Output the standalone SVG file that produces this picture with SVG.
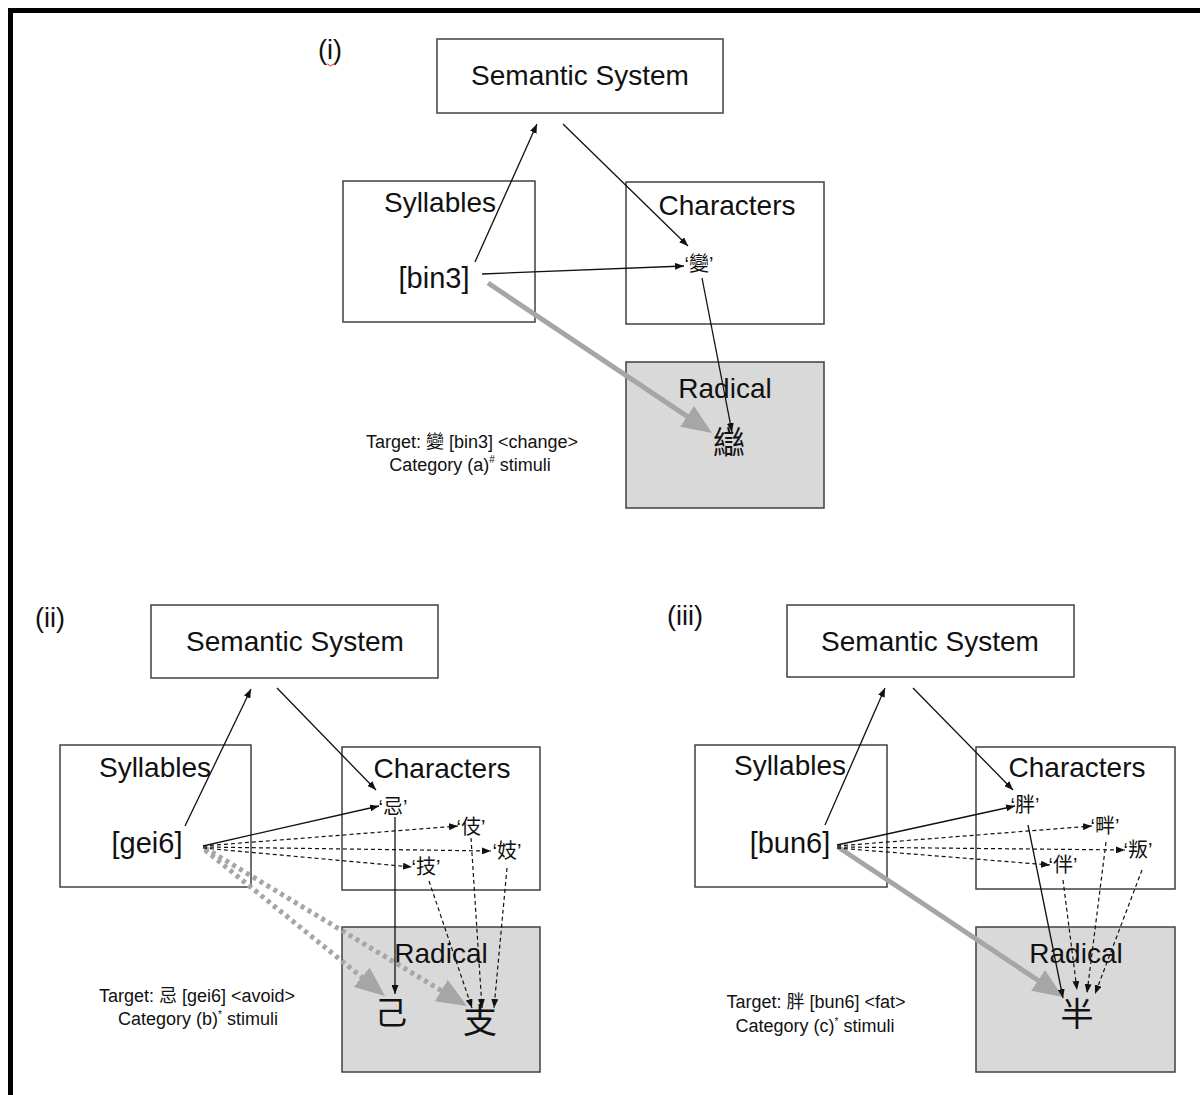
<svg xmlns="http://www.w3.org/2000/svg" width="1200" height="1095" viewBox="0 0 1200 1095">
<style>
text{font-family:"Liberation Sans","Noto Sans CJK TC",sans-serif;fill:#111;text-anchor:middle}
.box{fill:#fff;stroke:#404040;stroke-width:1.5}
.rad{fill:#d9d9d9;stroke:#404040;stroke-width:1.5}
.lbl{font-size:28px}
.br{font-size:29px}
.ch{font-size:20px}
.tg{font-size:18px}
.sup{font-size:10px}
.num{font-size:27px}
.a{stroke:#111;stroke-width:1.3;fill:none;marker-end:url(#ab)}
.d{stroke:#111;stroke-width:1.2;fill:none;stroke-dasharray:4 3;marker-end:url(#ab)}
.g{stroke:#a6a6a6;stroke-width:5;fill:none;marker-end:url(#ag)}
.gd{stroke:#a6a6a6;stroke-width:5;fill:none;stroke-dasharray:4 4;marker-end:url(#ag)}
</style>
<defs>
<marker id="ab" markerUnits="userSpaceOnUse" markerWidth="9" markerHeight="7" refX="9" refY="3.5" orient="auto"><path d="M0,0 L9,3.5 L0,7 z" fill="#111"/></marker>
<marker id="ag" markerUnits="userSpaceOnUse" markerWidth="31" markerHeight="25" refX="2" refY="12.5" orient="auto"><path d="M0,0 L30,12.5 L0,25 z" fill="#a6a6a6"/></marker>
</defs>
<rect width="1200" height="1095" fill="#fff"/>
<path d="M10.5,1095 V10.5 H1200" fill="none" stroke="#000" stroke-width="5"/>

<!-- Panel (i) -->
<g id="label-i"><text class="num" x="330" y="59">(i)</text><path d="M326,65 q1.5,-2 3,0 t3,0 t3,0" fill="none" stroke="#d33" stroke-width="1"/></g>
<g id="sem-i"><rect class="box" x="437" y="39" width="286" height="74"/><text class="lbl" x="580" y="85">Semantic System</text></g>
<g id="syl-i"><rect class="box" x="343" y="181" width="192" height="141"/><text class="lbl" x="440" y="212">Syllables</text><text class="br" x="434" y="288">[bin3]</text></g>
<g id="chr-i"><rect class="box" x="626" y="182" width="198" height="142"/><text class="lbl" x="727" y="215">Characters</text><text class="ch" x="699" y="271">‘變’</text></g>
<g id="rad-i"><rect class="rad" x="626" y="362" width="198" height="146"/><text class="lbl" x="725" y="398">Radical</text><text x="729" y="454" style="font-size:32px">䜌</text></g>
<g id="tgt-i"><text class="tg" x="472" y="448">Target: 變 [bin3] &lt;change&gt;</text><text class="tg" x="470" y="471">Category (a)<tspan class="sup" dy="-8">#</tspan><tspan dy="8"> stimuli</tspan></text></g>

<!-- Panel (ii) -->
<g id="label-ii"><text class="num" x="50" y="627">(ii)</text></g>
<g id="sem-ii"><rect class="box" x="151" y="605" width="287" height="73"/><text class="lbl" x="295" y="651">Semantic System</text></g>
<g id="syl-ii"><rect class="box" x="60" y="745" width="191" height="142"/><text class="lbl" x="155" y="777">Syllables</text><text class="br" x="147" y="853">[gei6]</text></g>
<g id="chr-ii"><rect class="box" x="342" y="747" width="198" height="143"/><text class="lbl" x="442" y="778">Characters</text>
<text class="ch" x="393" y="814">‘忌’</text><text class="ch" x="471" y="834">‘伎’</text><text class="ch" x="507" y="858">‘妓’</text><text class="ch" x="426" y="874">‘技’</text></g>
<g id="rad-ii"><rect class="rad" x="342" y="927" width="198" height="145"/><text class="lbl" x="441" y="963">Radical</text><text x="391" y="1024" style="font-size:32px">己</text><text x="480" y="1033" style="font-size:34px">支</text></g>
<g id="tgt-ii"><text class="tg" x="197" y="1002">Target: 忌 [gei6] &lt;avoid&gt;</text><text class="tg" x="198" y="1025">Category (b)<tspan class="sup" dy="-7">*</tspan><tspan dy="7"> stimuli</tspan></text></g>

<!-- Panel (iii) -->
<g id="label-iii"><text class="num" x="685" y="625">(iii)</text></g>
<g id="sem-iii"><rect class="box" x="787" y="605" width="287" height="72"/><text class="lbl" x="930" y="651">Semantic System</text></g>
<g id="syl-iii"><rect class="box" x="695" y="745" width="192" height="142"/><text class="lbl" x="790" y="775">Syllables</text><text class="br" x="790" y="853">[bun6]</text></g>
<g id="chr-iii"><rect class="box" x="976" y="747" width="199" height="142"/><text class="lbl" x="1077" y="777">Characters</text>
<text class="ch" x="1025" y="812">‘胖’</text><text class="ch" x="1105" y="833">‘畔’</text><text class="ch" x="1138" y="857">‘叛’</text><text class="ch" x="1063" y="872">‘伴’</text></g>
<g id="rad-iii"><rect class="rad" x="976" y="927" width="199" height="145"/><text class="lbl" x="1076" y="963">Radical</text><text x="1077" y="1026" style="font-size:33px">半</text></g>
<g id="tgt-iii"><text class="tg" x="816" y="1008">Target: 胖 [bun6] &lt;fat&gt;</text><text class="tg" x="815" y="1032">Category (c)<tspan class="sup" dy="-7">*</tspan><tspan dy="7"> stimuli</tspan></text></g>

<g id="connectors">
<!-- (i) -->
<line class="g" x1="488" y1="283" x2="688.7" y2="417.4"/>
<line class="a" x1="475" y1="262" x2="537" y2="124"/>
<line class="a" x1="563" y1="124" x2="688" y2="246"/>
<line class="a" x1="482" y1="274" x2="684" y2="266"/>
<line class="a" x1="702" y1="278" x2="732" y2="432"/>
<!-- (ii) -->
<line class="gd" x1="205" y1="850" x2="363.3" y2="978.4"/>
<line class="gd" x1="205" y1="848" x2="443" y2="991.6"/>
<line class="a" x1="185" y1="826" x2="251" y2="689"/>
<line class="a" x1="277" y1="688" x2="376" y2="790"/>
<line class="a" x1="203" y1="846" x2="379" y2="806"/>
<line class="d" x1="203" y1="846" x2="458" y2="826"/>
<line class="d" x1="203" y1="847" x2="491" y2="851"/>
<line class="d" x1="203" y1="848" x2="412" y2="867"/>
<line class="a" x1="395" y1="817" x2="395" y2="994"/>
<line class="d" x1="429" y1="881" x2="472" y2="1008"/>
<line class="d" x1="471" y1="838" x2="482" y2="1008"/>
<line class="d" x1="507" y1="868" x2="494" y2="1008"/>
<!-- (iii) -->
<line class="g" x1="838" y1="847" x2="1039.7" y2="981.5"/>
<line class="a" x1="825" y1="825" x2="885" y2="688"/>
<line class="a" x1="913" y1="688" x2="1013" y2="790"/>
<line class="a" x1="837" y1="845" x2="1015" y2="806"/>
<line class="d" x1="837" y1="846" x2="1092" y2="826"/>
<line class="d" x1="837" y1="847" x2="1125" y2="850"/>
<line class="d" x1="837" y1="848" x2="1050" y2="865"/>
<line class="a" x1="1028" y1="825" x2="1063" y2="998"/>
<line class="d" x1="1063" y1="880" x2="1077" y2="990"/>
<line class="d" x1="1106" y1="842" x2="1087" y2="993"/>
<line class="d" x1="1142" y1="870" x2="1095" y2="994"/>
</g>
</svg>
